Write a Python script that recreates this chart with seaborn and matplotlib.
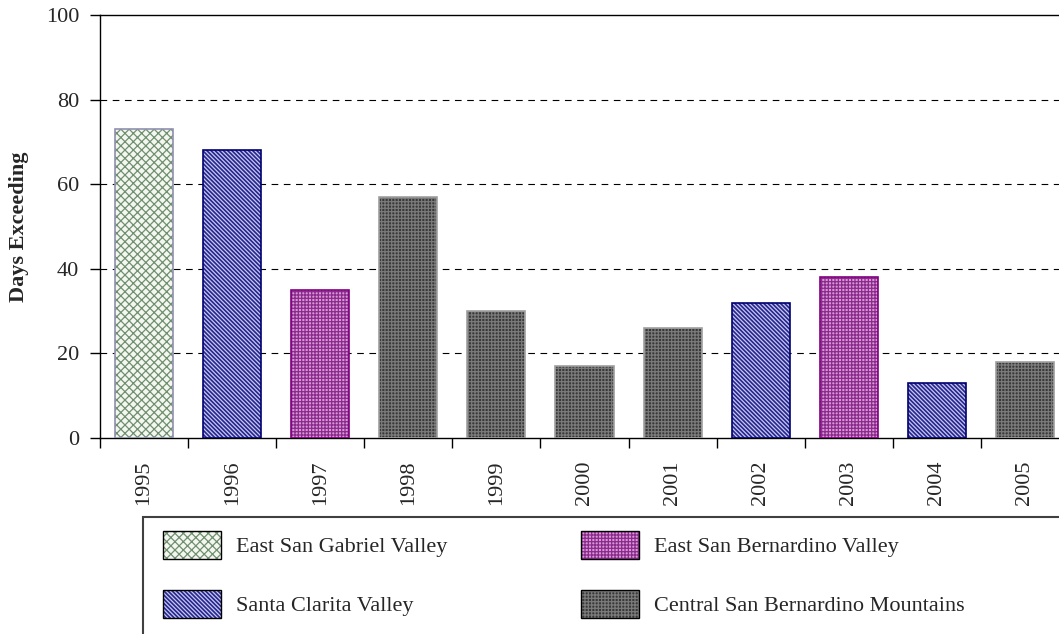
import matplotlib
matplotlib.use("Agg")
import matplotlib.pyplot as plt
import seaborn as sns
import pandas as pd
from matplotlib.patches import Patch, Rectangle
from matplotlib.legend_handler import HandlerTuple

years = ["1995", "1996", "1997", "1998", "1999", "2000", "2001", "2002", "2003", "2004", "2005"]
days = [73, 68, 35, 57, 30, 17, 26, 32, 38, 13, 18]
regions = ["East San Gabriel Valley", "Santa Clarita Valley", "East San Bernardino Valley",
           "Central San Bernardino Mountains", "Central San Bernardino Mountains",
           "Central San Bernardino Mountains", "Central San Bernardino Mountains",
           "Santa Clarita Valley", "East San Bernardino Valley", "Santa Clarita Valley",
           "Central San Bernardino Mountains"]
region_order = ["East San Gabriel Valley", "Santa Clarita Valley",
                "East San Bernardino Valley", "Central San Bernardino Mountains"]
yticks = [0, 20, 40, 60, 80, 100]

styles = {
    "East San Gabriel Valley": dict(fc="#f4f6f0", hc="#6f8f6f", hatch="xxxx", ec="#9090b0"),
    "Santa Clarita Valley": dict(fc="#26268f", hc="#c8c8f0", hatch="\\\\\\\\\\\\\\\\", ec="#000070"),
    "East San Bernardino Valley": dict(fc="#d898d8", hc="#8a2a8a", hatch="+++++", ec="#800080"),
    "Central San Bernardino Mountains": dict(fc="#383838", hc="#7a7a7a", hatch="+++++", ec="#a0a0a0"),
}

df = pd.DataFrame({"Year": years, "Days": days, "Region": regions})

sns.set_theme(style="white")
plt.rcParams["font.family"] = ["Liberation Serif", "DejaVu Serif"]
plt.rcParams["hatch.linewidth"] = 0.9

fig = plt.figure(figsize=(10.59, 6.34), dpi=100)
ax = fig.add_axes([100 / 1059, 1 - 438 / 634, 969 / 1059, 423 / 634])

sns.barplot(data=df, x="Year", y="Days", hue="Region", hue_order=region_order,
            order=years, dodge=False, width=0.66, ax=ax, legend=False,
            palette={r: styles[r]["fc"] for r in region_order}, saturation=1)

for cont, reg in zip(ax.containers, region_order):
    st = styles[reg]
    for p in cont:
        p.set_facecolor(st["fc"])
        p.set_edgecolor(st["hc"])
        p.set_hatch(st["hatch"])
        p.set_linewidth(0)
        p.set_zorder(3)
        ax.add_patch(Rectangle(p.get_xy(), p.get_width(), p.get_height(), fill=False,
                               ec=st["ec"], lw=1.2, zorder=4))

ax.set_ylim(0, 100)
ax.set_xlim(-0.5, len(years) - 0.5)
ax.set_yticks(yticks)
ax.set_yticklabels([str(v) for v in yticks], fontsize=16)
for v in yticks[1:-1]:
    ax.axhline(v, color="black", lw=0.8, ls=(0, (6, 5)), zorder=1)
ax.set_xticks(range(len(years)))
ax.set_xticklabels(years, rotation=90, fontsize=16)
ax.set_xticks([i + 0.5 for i in range(-1, len(years))], minor=True)
ax.tick_params(axis="x", which="major", length=0, pad=16)
ax.tick_params(axis="x", which="minor", length=7, width=1, color="black", direction="out", bottom=True)
ax.tick_params(axis="y", length=7, width=1, color="black", direction="out", left=True, pad=8)
ax.set_xlabel("")
ax.set_ylabel("Days Exceeding", fontsize=16, fontweight="bold", labelpad=12)
for s in ["left", "bottom", "top", "right"]:
    ax.spines[s].set_visible(True)
    ax.spines[s].set_color("black")
    ax.spines[s].set_linewidth(1.0)
ax.grid(False)

# legend box
fig.patches.append(Rectangle((143 / 1059, -0.05), 1.0, 1 - 517 / 634 + 0.05, transform=fig.transFigure,
                             fill=False, ec="#404040", lw=1.5, zorder=0))

leg_order = ["East San Gabriel Valley", "Santa Clarita Valley",
             "East San Bernardino Valley", "Central San Bernardino Mountains"]
handles = []
for r in leg_order:
    st = styles[r]
    handles.append((Patch(facecolor=st["fc"], edgecolor=st["hc"], hatch=st["hatch"], lw=0),
                    Patch(fill=False, edgecolor="black", lw=1.0)))
fig.legend(handles, leg_order, handler_map={tuple: HandlerTuple(ndivide=1, pad=0)},
           loc="upper left", bbox_to_anchor=(143 / 1059, 1 - 511 / 634), ncol=2,
           frameon=False, fontsize=16, handlelength=2.6, handleheight=1.55,
           handletextpad=0.7, labelspacing=1.4, columnspacing=6.0)

fig.savefig("out.png", dpi=100)
